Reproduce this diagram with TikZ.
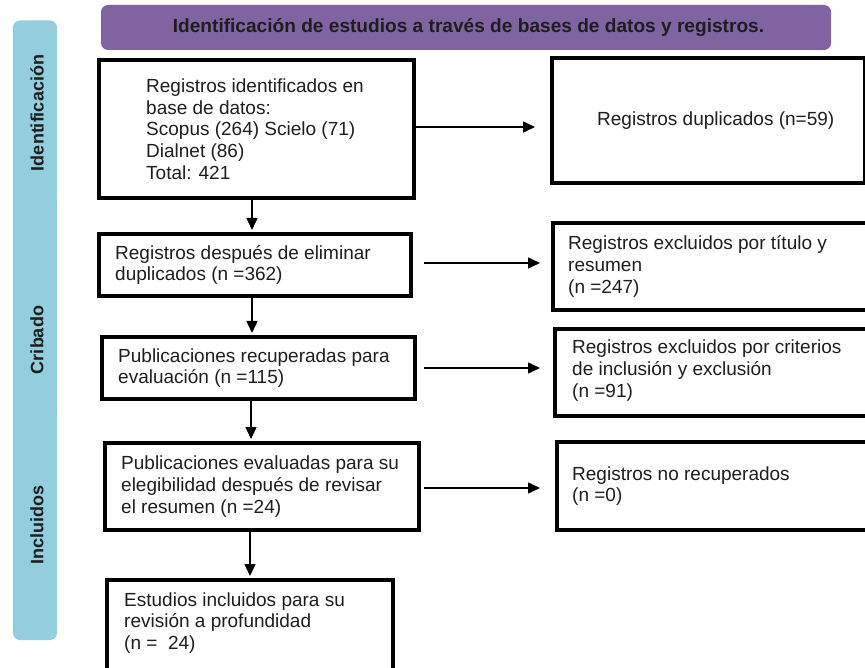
\documentclass[tikz,border=0pt]{standalone}
\usepackage{fontspec}
\setmainfont{Liberation Sans}
\usetikzlibrary{arrows.meta,calc}
\definecolor{barblue}{RGB}{147,205,222}
\definecolor{titlepurple}{RGB}{128,100,162}
\definecolor{txt}{RGB}{30,30,30}
\tikzset{
  flowbox/.style={draw=black, line width=4pt, fill=white, rectangle, inner sep=0pt, anchor=center},
  flowtext/.style={align=left, inner sep=0pt, anchor=west,
    font=\fontsize{19}{21.7}\selectfont, text=txt},
  sidebar/.style={fill=barblue, rectangle, minimum width=44pt, inner sep=0pt},
  sidelabel/.style={rotate=90, font=\bfseries\fontsize{18}{20}\selectfont, text=txt},
  arr/.style={line width=1.5pt, -{Triangle[length=12pt,width=11pt]}},
}
\begin{document}
\begin{tikzpicture}[x=1pt,y=-1pt]
\useasboundingbox (0,0) rectangle (865,668);
\clip (0,0) rectangle (865,668);
\fill[white] (0,0) rectangle (865,668);

% side bars
\node[sidebar, rounded corners=7pt, minimum height=185pt] (barI) at (35,113) {};
\node[sidebar, rounded corners=7pt, minimum height=233pt] (barN) at (35,523.5) {};
\node[sidebar, minimum height=220pt] (barC) at (35,305) {};
\node[sidelabel] (lI) at (37,113) {Identificación};
\node[sidelabel] (lC) at (37,340) {Cribado};
\node[sidelabel] (lN) at (37,525) {Incluidos};

% title
\node[fill=titlepurple, rounded corners=7pt, minimum width=730pt, minimum height=45pt, inner sep=0pt] (title) at (466,27.5) {};
\node[font=\bfseries\fontsize{19.1}{21}\selectfont, text=txt, inner sep=0pt] (titlet) at (468.5,27.5)
  {Identificación de estudios a través de bases de datos y registros.};

% left column boxes
\node[flowbox, minimum width=315pt, minimum height=138pt] (A) at (256.5,129) {};
\node[flowtext] (At) at ([xshift=49pt]A.west)
  {Registros identificados en\\base de datos:\\Scopus (264) Scielo (71)\\Dialnet (86)\\Total: 421};
\node[flowbox, minimum width=312pt, minimum height=62pt] (B) at (255,265) {};
\node[flowtext] (Bt) at ([xshift=18pt]B.west)
  {Registros después de eliminar\\duplicados (n =362)};
\node[flowbox, minimum width=313pt, minimum height=62pt] (C) at (258.5,368) {};
\node[flowtext] (Ct) at ([xshift=18pt]C.west)
  {Publicaciones recuperadas para\\evaluación (n =115)};
\node[flowbox, minimum width=314pt, minimum height=87pt] (D) at (262,486.5) {};
\node[flowtext] (Dt) at ([xshift=18pt]D.west)
  {Publicaciones evaluadas para su\\elegibilidad después de revisar\\el resumen (n =24)};
\node[flowbox, minimum width=286pt, minimum height=90pt] (E) at (250,625) {};
\node[flowtext] (Et) at ([xshift=19pt,yshift=2pt]E.west)
  {Estudios incluidos para su\\revisión a profundidad\\(n =~ 24)};

% right column boxes
\node[flowbox, minimum width=313pt, minimum height=125pt] (dup) at (708.5,120.5) {};
\node[flowtext] (dupt) at ([xshift=47pt]dup.west) {Registros duplicados (n=59)};
\node[flowbox, minimum width=327pt, minimum height=87pt] (ex1) at (716.5,266.5) {};
\node[flowtext] (ex1t) at ([xshift=17pt]ex1.west)
  {Registros excluidos por título y\\resumen\\(n =247)};
\node[flowbox, minimum width=325pt, minimum height=87pt] (ex2) at (717.5,372.5) {};
\node[flowtext] (ex2t) at ([xshift=19pt,yshift=2pt]ex2.west)
  {Registros excluidos por criterios\\de inclusión y exclusión\\(n =91)};
\node[flowbox, minimum width=323pt, minimum height=88pt] (nr) at (718.5,486) {};
\node[flowtext] (nrt) at ([xshift=17pt]nr.west)
  {Registros no recuperados\\(n =0)};

% vertical arrows
\coordinate (colA) at (252,0);
\coordinate (colB) at (251,0);
\coordinate (colC) at (250,0);
\draw[arr, shorten >=2pt] (A.south -| colA) -- (B.north -| colA);
\draw[arr, shorten >=2pt] (B.south -| colA) -- (C.north -| colA);
\draw[arr, shorten >=2pt] (C.south -| colB) -- (D.north -| colB);
\draw[arr, shorten >=2pt] (D.south -| colC) -- (E.north -| colC);

% horizontal arrows
\draw[arr, shorten >=15pt] ([yshift=2pt]A.east) -- ([yshift=2pt]A.east -| dup.west);
\draw[arr, shorten <=11pt, shorten >=11pt] ([yshift=2pt]B.east) -- ([yshift=2pt]B.east -| ex1.west);
\draw[arr, shorten <=7pt, shorten >=13pt] (C.east) -- (C.east -| ex2.west);
\draw[arr, shorten <=3pt, shorten >=15pt] ([yshift=-1.5pt]D.east) -- ([yshift=-1.5pt]D.east -| nr.west);
\end{tikzpicture}
\end{document}
